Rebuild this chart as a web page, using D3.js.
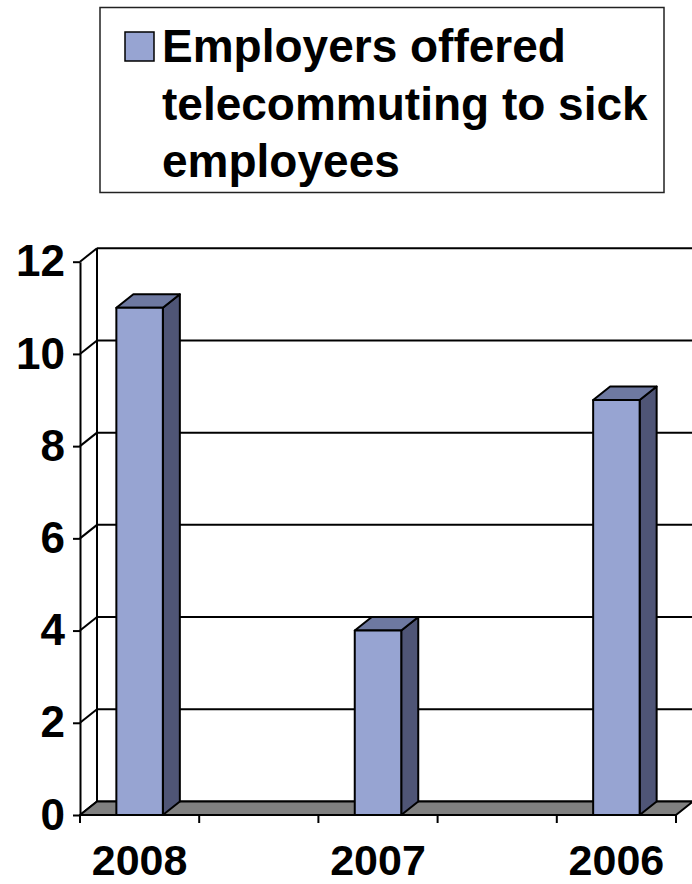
<!DOCTYPE html>
<html>
<head>
<meta charset="utf-8">
<script src="https://cdn.jsdelivr.net/npm/d3@7"></script>
<style>
  body { margin: 0; background: #fff; }
  svg { display: block; font-family: "Liberation Sans", Arial, sans-serif; }
</style>
</head>
<body>
<div id="chart"></div>
<script>
// Data (blank slots sit between the years, as in the original sheet)
const categories = ["2008", "", "2007", "", "2006"]
const values = [11, null, 4, null, 9]
const yTicks = [0, 2, 4, 6, 8, 10, 12]
const legendLines = ["Employers offered", "telecommuting to sick", "employees"]

// Dimensions
const width = 692
const height = 884
const depth = {dx: 17, dy: -13.5}
const colors = {front: "#97a4d2", top: "#6e79a1", side: "#4f5576", floor: "#808080"}

const svg = d3.select("#chart")
  .append("svg")
    .attr("width", width)
    .attr("height", height)

// Scales
const x = d3.scaleBand()
    .domain(d3.range(categories.length))
    .range([80, 676])
const y = d3.scaleLinear()
    .domain([0, 12])
    .range([815, 261.7])

const barWidth = x.bandwidth() * 0.39
const xEnd = x.range()[1]

// Side wall + back wall grid lines
const grid = svg.append("g")
yTicks.forEach(function(t) {
  grid.append("line")
    .attr("x1", x.range()[0]).attr("y1", y(t))
    .attr("x2", x.range()[0] + depth.dx).attr("y2", y(t) + depth.dy)
  grid.append("line")
    .attr("x1", x.range()[0] + depth.dx).attr("y1", y(t) + depth.dy)
    .attr("x2", xEnd + depth.dx).attr("y2", y(t) + depth.dy)
})
grid.append("line")
  .attr("x1", x.range()[0] + depth.dx).attr("y1", y(12) + depth.dy)
  .attr("x2", x.range()[0] + depth.dx).attr("y2", y(0) + depth.dy)
grid.selectAll("line")
  .attr("stroke", "#000")
  .attr("stroke-width", 2)

// Floor
const floorPts = [
  [x.range()[0], y(0)], [xEnd, y(0)],
  [xEnd + depth.dx, y(0) + depth.dy], [x.range()[0] + depth.dx, y(0) + depth.dy]
]
svg.append("path")
  .attr("d", d3.line()(floorPts) + "Z")
  .attr("fill", colors.floor)
  .attr("stroke", "#000")
  .attr("stroke-width", 2)
  .attr("stroke-linejoin", "round")

// Y axis
svg.append("g")
  .attr("transform", `translate(${x.range()[0]},0)`)
  .call(d3.axisLeft(y)
    .tickValues(yTicks)
    .tickSize(7)
    .tickSizeOuter(0)
    .tickPadding(8))
  .call(function(g) {
    g.selectAll("line, path").attr("stroke", "#000").attr("stroke-width", 2)
    g.selectAll("text")
      .attr("fill", "#000")
      .style("font-size", "44px")
      .style("font-weight", "bold")
      .style("font-family", "'Liberation Sans', Arial, sans-serif")
  })

// Bars
const bars = svg.selectAll(".bar")
  .data(values.map(function(v, i) { return {v: v, i: i} }).filter(function(d) { return d.v != null }))
  .enter().append("g")
    .attr("class", "bar")

function barX(d) { return x(d.i) + (x.bandwidth() - barWidth) / 2 }

bars.append("path")
  .attr("fill", colors.side)
  .attr("d", function(d) {
    const x0 = barX(d) + barWidth
    return d3.line()([[x0, y(0)], [x0 + depth.dx, y(0) + depth.dy],
      [x0 + depth.dx, y(d.v) + depth.dy], [x0, y(d.v)]]) + "Z"
  })
bars.append("path")
  .attr("fill", colors.top)
  .attr("d", function(d) {
    const x0 = barX(d)
    return d3.line()([[x0, y(d.v)], [x0 + barWidth, y(d.v)],
      [x0 + barWidth + depth.dx, y(d.v) + depth.dy], [x0 + depth.dx, y(d.v) + depth.dy]]) + "Z"
  })
bars.append("rect")
  .attr("fill", colors.front)
  .attr("x", barX)
  .attr("y", function(d) { return y(d.v) })
  .attr("width", barWidth)
  .attr("height", function(d) { return y(0) - y(d.v) })
bars.selectAll("path, rect")
  .attr("stroke", "#000")
  .attr("stroke-width", 2)
  .attr("stroke-linejoin", "round")

// X axis tick marks at the slot boundaries
const xBounds = d3.range(categories.length).map(function(i) { return x(i) }).concat([xEnd])
svg.append("g")
  .selectAll("line")
  .data(xBounds)
  .enter().append("line")
    .attr("x1", function(d) { return d }).attr("x2", function(d) { return d })
    .attr("y1", y(0)).attr("y2", y(0) + 8)
    .attr("stroke", "#000")
    .attr("stroke-width", 2)

// X axis labels
svg.append("g")
  .attr("transform", `translate(0,${y(0)})`)
  .call(d3.axisBottom(x)
    .tickSize(0)
    .tickPadding(29)
    .tickFormat(function(i) { return categories[i] }))
  .call(function(g) {
    g.select(".domain").remove()
    g.selectAll("text")
      .attr("fill", "#000")
      .style("font-size", "43px")
      .style("font-weight", "bold")
      .style("font-family", "'Liberation Sans', Arial, sans-serif")
  })

// Legend
const legend = svg.append("g")
legend.append("rect")
  .attr("x", 100).attr("y", 7.5)
  .attr("width", 564).attr("height", 185)
  .attr("fill", "#fff")
  .attr("stroke", "#222")
  .attr("stroke-width", 1.5)
legend.append("rect")
  .attr("x", 125).attr("y", 32)
  .attr("width", 29).attr("height", 29)
  .attr("fill", colors.front)
  .attr("stroke", "#000")
  .attr("stroke-width", 1.5)
legend.selectAll(".legend-line")
  .data(legendLines)
  .enter().append("text")
    .attr("class", "legend-line")
    .attr("x", 162)
    .attr("y", function(d, i) { return 62 + i * 57.5 })
    .style("font-size", "46px")
    .style("font-weight", "bold")
    .text(function(d) { return d })
</script>
</body>
</html>
